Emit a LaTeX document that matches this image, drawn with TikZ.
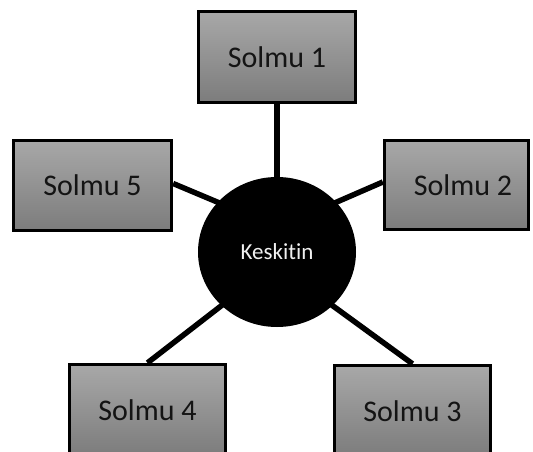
\documentclass[tikz,border=0pt]{standalone}
\usepackage{fontspec}
\setmainfont{Carlito}[Ligatures={NoCommon}]
\usetikzlibrary{shapes.geometric,backgrounds,calc}
\definecolor{boxtop}{RGB}{168,168,168}
\definecolor{boxbottom}{RGB}{124,124,124}
\definecolor{hubtext}{RGB}{240,240,240}
\begin{document}
\begin{tikzpicture}[x=1pt,y=-1pt,
  nodebox/.style={draw=black, line width=3.3pt, top color=boxtop, bottom color=boxbottom,
    inner sep=0pt, font=\fontsize{30}{36}\selectfont, text=black!92},
  link/.style={line width=5.5pt, draw=black}]
  \useasboundingbox (0,0) rectangle (533,452);
  \clip (0,0) rectangle (533,452);

  % central hub
  \node[ellipse, fill=black, inner sep=0pt, minimum width=158pt, minimum height=150pt,
        text=hubtext, font=\fontsize{23}{28}\selectfont] (hub) at (277,252) {Keskitin};

  % surrounding nodes
  \node[nodebox, minimum width=157pt, minimum height=91pt] (b1) at (277,57) {Solmu 1};
  \node[nodebox, minimum width=144pt, minimum height=89pt,
        label={[xshift=6.5pt, font=\fontsize{30}{36}\selectfont, text=black!92]center:Solmu 2}] (b2) at (456.5,185) {};
  \node[nodebox, minimum width=156pt, minimum height=91pt] (b3) at (412.5,411) {Solmu 3};
  \node[nodebox, minimum width=156pt, minimum height=91pt] (b4) at (147.5,410) {Solmu 4};
  \node[nodebox, minimum width=158pt, minimum height=90pt] (b5) at (92.5,185.5) {Solmu 5};

  % connectors, kept behind the hub and the boxes
  \begin{scope}[on background layer]
    \draw[link] (b1.south) -- ($(b1.south)!1.1!(hub.north)$);
    \draw[link] ([yshift=3pt]b2.west) -- ($([yshift=3pt]b2.west)!1.15!(hub.40)$);
    \draw[link] (b3.north) -- ($(b3.north)!1.15!(hub.-44)$);
    \draw[link] (b4.north) -- ($(b4.north)!1.15!(hub.224)$);
    \draw[link] ([yshift=2pt]b5.east) -- ($([yshift=2pt]b5.east)!1.15!(hub.140)$);
  \end{scope}
\end{tikzpicture}
\end{document}
